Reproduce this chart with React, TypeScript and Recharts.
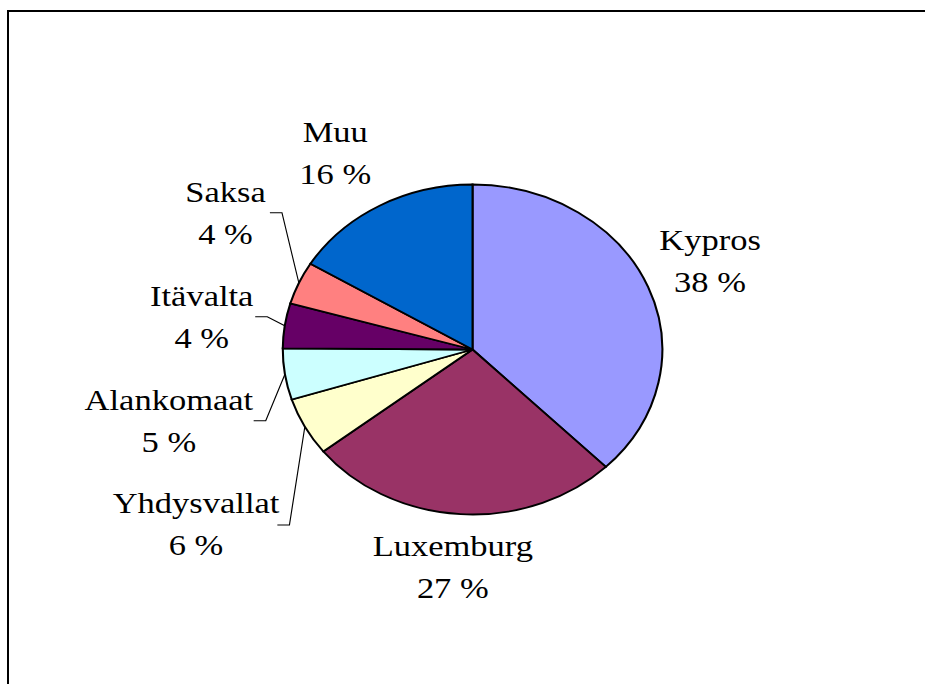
import { PieChart, Pie, Cell } from 'recharts'

// source shares (%)
const countries = ['Kypros', 'Luxemburg', 'Yhdysvallat', 'Alankomaat', 'Itävalta', 'Saksa', 'Muu']
const shares = [37.6, 26.8, 5.7, 5.0, 4.4, 4.2, 16.3]
const colors = ['#9999FF', '#993366', '#FFFFCC', '#CCFFFF', '#660066', '#FF8080', '#0066CC']

// label layout relative to the slice's outer edge point (chart units)
const labelLayout = [
  { dx: 53.9, dy: -36.8 },
  { dx: -6.8, dy: 41.8 },
  { dx: -94.6, dy: 86.6, elbow: [-13.4, 98.3] },
  { dx: -100.9, dy: 35.7, elbow: [-16.7, 46.4] },
  { dx: -72.2, dy: -19.7, elbow: [-15.2, -9.0] },
  { dx: -63.8, dy: -81.3, elbow: [-14.7, -70.3] },
  { dx: -38.5, dy: -64 },
]

const data = countries.map((name, i) => ({ name, value: shares[i] }))

// the original chart is stretched sideways
const SX = 1.15
const RADIAN = Math.PI / 180

function renderLabel(props: any) {
  const { cx, cy, midAngle, outerRadius, index, percent, name } = props
  const ex = cx + outerRadius * Math.cos(-midAngle * RADIAN)
  const ey = cy + outerRadius * Math.sin(-midAngle * RADIAN)
  const p = labelLayout[index]
  const lx = ex + p.dx
  const ly = ey + p.dy
  return (
    <g key={`lbl-${index}`}>
      {p.elbow && (
        <path
          d={`M${ex},${ey} L${ex + p.elbow[0]},${ey + p.elbow[1]} L${ex + p.elbow[0] - 10.5},${ey + p.elbow[1]}`}
          stroke="#000"
          strokeWidth={1}
          fill="none"
        />
      )}
      <text
        x={lx}
        y={ly}
        textAnchor="middle"
        fontFamily="Liberation Serif"
        fontSize={30}
        style={{ fontFamily: 'Liberation Serif' }}
        fill="#000"
      >
        <tspan x={lx} fontFamily="Liberation Serif">{name}</tspan>
        <tspan x={lx} dy={42} fontFamily="Liberation Serif">{`${Math.round(percent * 100)} %`}</tspan>
      </text>
    </g>
  )
}

export default function App() {
  return (
    <div
      style={{
        position: 'fixed',
        left: 0,
        top: 0,
        width: 925,
        height: 684,
        overflow: 'hidden',
        background: '#fff',
      }}
    >
      <div
        style={{
          position: 'absolute',
          left: 7,
          top: 10,
          width: 960,
          height: 720,
          border: '2px solid #000',
        }}
      />
      <div style={{ position: 'absolute', left: 0, top: 0, transform: `scaleX(${SX})`, transformOrigin: '0 0' }}>
        <PieChart width={804} height={684} margin={{ top: 0, right: 0, bottom: 0, left: 0 }}>
          <Pie
            data={data}
            dataKey="value"
            nameKey="name"
            cx={410.9}
            cy={349.5}
            outerRadius={165}
            startAngle={90}
            endAngle={-270}
            stroke="#000"
            strokeWidth={1.8}
            label={renderLabel}
            labelLine={false}
            isAnimationActive={false}
          >
            {data.map((d, i) => (
              <Cell key={d.name} fill={colors[i]} />
            ))}
          </Pie>
        </PieChart>
      </div>
    </div>
  )
}
